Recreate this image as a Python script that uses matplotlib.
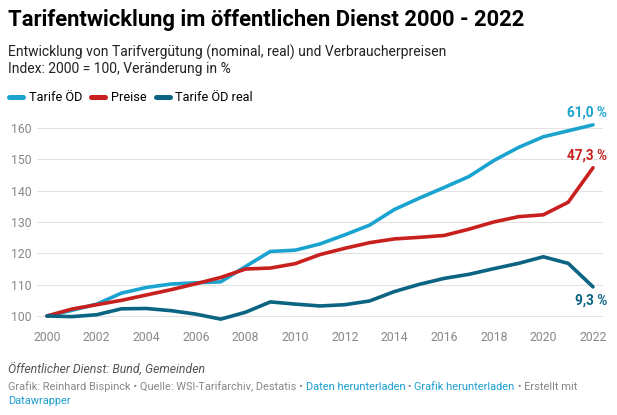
import matplotlib
matplotlib.use("Agg")
import matplotlib.pyplot as plt
from matplotlib.lines import Line2D

plt.rcParams['font.family'] = ['Roboto', 'DejaVu Sans']

years = list(range(2000, 2023))
tarife = [100, 101.8, 103.8, 107.3, 109.1, 110.2, 110.6, 110.9, 115.8, 120.6, 121.0,
          123.0, 125.9, 129.0, 134.0, 137.6, 141.0, 144.5, 149.6, 153.8, 157.2, 159.1, 161.0]
preise = [100, 102.2, 103.6, 105.0, 106.7, 108.4, 110.3, 112.3, 115.0, 115.3, 116.7,
          119.6, 121.6, 123.4, 124.6, 125.1, 125.7, 127.7, 130.0, 131.7, 132.3, 136.3, 147.3]
real = [100, 99.8, 100.4, 102.3, 102.4, 101.7, 100.6, 99.0, 101.2, 104.5, 103.8,
        103.2, 103.6, 104.8, 107.8, 110.1, 112.0, 113.3, 115.1, 116.8, 118.9, 116.8, 109.3]
series_names = ['Tarife ÖD', 'Preise', 'Tarife ÖD real']
end_labels = ['61,0 %', '47,3 %', '9,3 %']
colors = ['#1ba3d0', '#c8201e', '#0b6482']
yticks = [100, 110, 120, 130, 140, 150, 160]
xticks = list(range(2000, 2023, 2))

W, H = 617, 415
fig = plt.figure(figsize=(W / 100, H / 100), dpi=100)
ax = fig.add_axes([37 / W, 0.2159, (603 - 37) / W, 0.4908])

for vals, name, c in zip([tarife, preise, real], series_names, colors):
    ax.plot(years, vals, color=c, lw=2.6, solid_capstyle='round',
            solid_joinstyle='round', label=name, zorder=3)

ax.set_xlim(2000 - 10 / 24.8, 2022 + 10 / 24.8)
ax.set_ylim(97, 162)
ax.set_yticks(yticks)
ax.set_xticks(xticks)
ax.set_xticklabels([str(x) for x in xticks])
for s in ax.spines.values():
    s.set_visible(False)
ax.grid(axis='y', color='#e2e2e2', lw=0.8, zorder=0)
ax.tick_params(axis='both', length=0, labelsize=8.8, labelcolor='#888888')
ax.tick_params(axis='y', pad=4)
ax.tick_params(axis='x', pad=4)

# end labels
offsets = [(0, 9), (0, 9), (0, -10)]
for vals, lab, c, off in zip([tarife, preise, real], end_labels, colors, offsets):
    ax.annotate(lab, xy=(years[-1], vals[-1]), xytext=(10 + off[0], off[1]),
                textcoords='offset points', ha='right', va='center',
                color=c, fontsize=9.8, fontweight='bold')

# title & subtitle
fig.text(8 / W, 1 - 20 / H, 'Tarifentwicklung im öffentlichen Dienst 2000 - 2022',
         fontsize=15.8, fontweight='bold', color='#000000', va='center', ha='left')
fig.text(8 / W, 1 - 52 / H, 'Entwicklung von Tarifvergütung (nominal, real) und Verbraucherpreisen',
         fontsize=10, color='#222222', va='center', ha='left')
fig.text(8 / W, 1 - 69 / H, 'Index: 2000 = 100, Veränderung in %',
         fontsize=10, color='#222222', va='center', ha='left')

handles = [Line2D([], [], color=c, lw=3.6, solid_capstyle='round') for c in colors]
fig.legend(handles=handles, labels=series_names, loc='center left',
           bbox_to_anchor=(9 / W, 1 - 97.5 / H), bbox_transform=fig.transFigure,
           ncol=3, frameon=False, fontsize=9.2, handlelength=1.1,
           handletextpad=0.45, columnspacing=0.7, borderpad=0, borderaxespad=0)

# footer
fig.text(8 / W, 1 - 370 / H, 'Öffentlicher Dienst: Bund, Gemeinden', fontsize=8.8,
         style='italic', color='#555555', va='center', ha='left')

renderer = fig.canvas.get_renderer()
footer_parts = [
    ('Grafik: Reinhard Bispinck • Quelle: WSI-Tarifarchiv, Destatis • ', '#888888'),
    ('Daten herunterladen', '#1d9fd1'),
    (' • ', '#888888'),
    ('Grafik herunterladen', '#1d9fd1'),
    (' • Erstellt mit', '#888888'),
]
x = 8
for txt, c in footer_parts:
    t = fig.text(x / W, 1 - 390 / H, txt, fontsize=7.9, color=c,
                 va='baseline', ha='left')
    bb = t.get_window_extent(renderer)
    x += bb.width
fig.text(8 / W, 1 - 404 / H, 'Datawrapper', fontsize=7.9, color='#1d9fd1',
         va='baseline', ha='left')

fig.savefig('out.png', dpi=100)
